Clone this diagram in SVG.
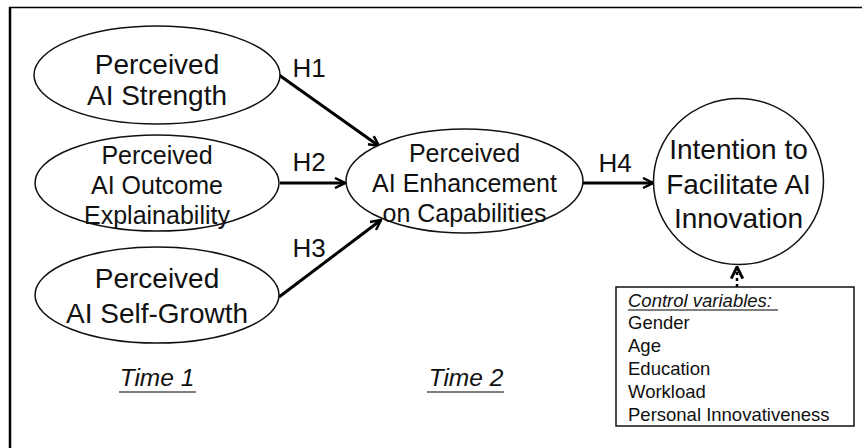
<svg xmlns="http://www.w3.org/2000/svg" width="863" height="448" viewBox="0 0 863 448">
<style>
  text { font-family: "Liberation Sans", Arial, sans-serif; fill: #111; }
  .node { fill: #fff; stroke: #111; stroke-width: 1.5; }
  .big { font-size: 28px; text-anchor: middle; }
  .mid { font-size: 25px; text-anchor: middle; }
  .lab { font-size: 26px; text-anchor: middle; }
  .edge { stroke: #000; stroke-width: 3; fill: none; marker-end: url(#arr); }
  .cv { font-size: 18.5px; }
  .time { font-size: 24.5px; font-style: italic; text-anchor: middle; }
  .ul { stroke: #555; stroke-width: 1.5; }
</style>
<defs>
  <marker id="arr" viewBox="0 0 12 12" refX="11" refY="6" markerWidth="12" markerHeight="12" markerUnits="userSpaceOnUse" orient="auto">
    <path d="M1,1 L11,6 L1,11" fill="none" stroke="#000" stroke-width="2.5" stroke-linejoin="miter"/>
  </marker>
  <marker id="arrs" viewBox="0 0 12 12" refX="11" refY="6" markerWidth="14" markerHeight="14" markerUnits="userSpaceOnUse" orient="auto">
    <path d="M1,1 L11,6 L1,11" fill="none" stroke="#000" stroke-width="2.5"/>
  </marker>
</defs>
<rect width="863" height="448" fill="#fff"/>
<g id="frame">
  <line x1="9" y1="7.5" x2="862" y2="7.5" stroke="#000" stroke-width="1.5"/>
  <line x1="10" y1="7" x2="10" y2="448" stroke="#000" stroke-width="2.5"/>
</g>
<g id="connectors">
  <line class="edge" x1="279" y1="75" x2="379" y2="146"/>
  <line class="edge" x1="280" y1="183" x2="345" y2="183"/>
  <line class="edge" x1="279" y1="297" x2="381" y2="220"/>
  <line class="edge" x1="583" y1="183" x2="653" y2="183"/>
  <line x1="737" y1="287" x2="737" y2="267" stroke="#000" stroke-width="2.5" stroke-dasharray="3 3" marker-end="url(#arrs)"/>
  <text class="lab" x="309" y="77">H1</text>
  <text class="lab" x="309" y="171">H2</text>
  <text class="lab" x="309" y="257">H3</text>
  <text class="lab" x="615" y="172">H4</text>
</g>
<g id="n1">
  <ellipse class="node" cx="157" cy="75" rx="123" ry="49"/>
  <text class="big" x="157" y="74">Perceived</text>
  <text class="big" x="157" y="105">AI Strength</text>
</g>
<g id="n2">
  <ellipse class="node" cx="157" cy="183" rx="122" ry="48"/>
  <text class="mid" x="157" y="164">Perceived</text>
  <text class="mid" x="157" y="194">AI Outcome</text>
  <text class="mid" x="157" y="224">Explainability</text>
</g>
<g id="n3">
  <ellipse class="node" cx="157" cy="295" rx="122" ry="48"/>
  <text class="big" x="157" y="288">Perceived</text>
  <text class="big" x="157" y="323">AI Self-Growth</text>
</g>
<g id="n4">
  <ellipse class="node" cx="464.5" cy="181" rx="118.5" ry="52"/>
  <text class="mid" x="464.5" y="162">Perceived</text>
  <text class="mid" x="464.5" y="192">AI Enhancement</text>
  <text class="mid" x="464.5" y="222">on Capabilities</text>
</g>
<g id="n5">
  <ellipse class="node" cx="738.5" cy="181.5" rx="85" ry="83"/>
  <text class="big" x="738.5" y="159">Intention to</text>
  <text class="big" x="738.5" y="194">Facilitate AI</text>
  <text class="big" x="738.5" y="228">Innovation</text>
</g>
<g id="controls">
  <rect x="616" y="287" width="238" height="139" fill="#fff" stroke="#111" stroke-width="1.5"/>
  <text class="cv" x="628" y="307" font-style="italic">Control variables:</text>
  <line class="ul" x1="628" y1="310" x2="778" y2="310"/>
  <text class="cv" x="628" y="329">Gender</text>
  <text class="cv" x="628" y="352">Age</text>
  <text class="cv" x="628" y="375">Education</text>
  <text class="cv" x="628" y="398">Workload</text>
  <text class="cv" x="628" y="421">Personal Innovativeness</text>
</g>
<g id="times">
  <text class="time" x="157" y="386">Time 1</text>
  <line class="ul" x1="119" y1="392" x2="196" y2="392"/>
  <text class="time" x="466" y="386">Time 2</text>
  <line class="ul" x1="427" y1="392" x2="504" y2="392"/>
</g>
</svg>
